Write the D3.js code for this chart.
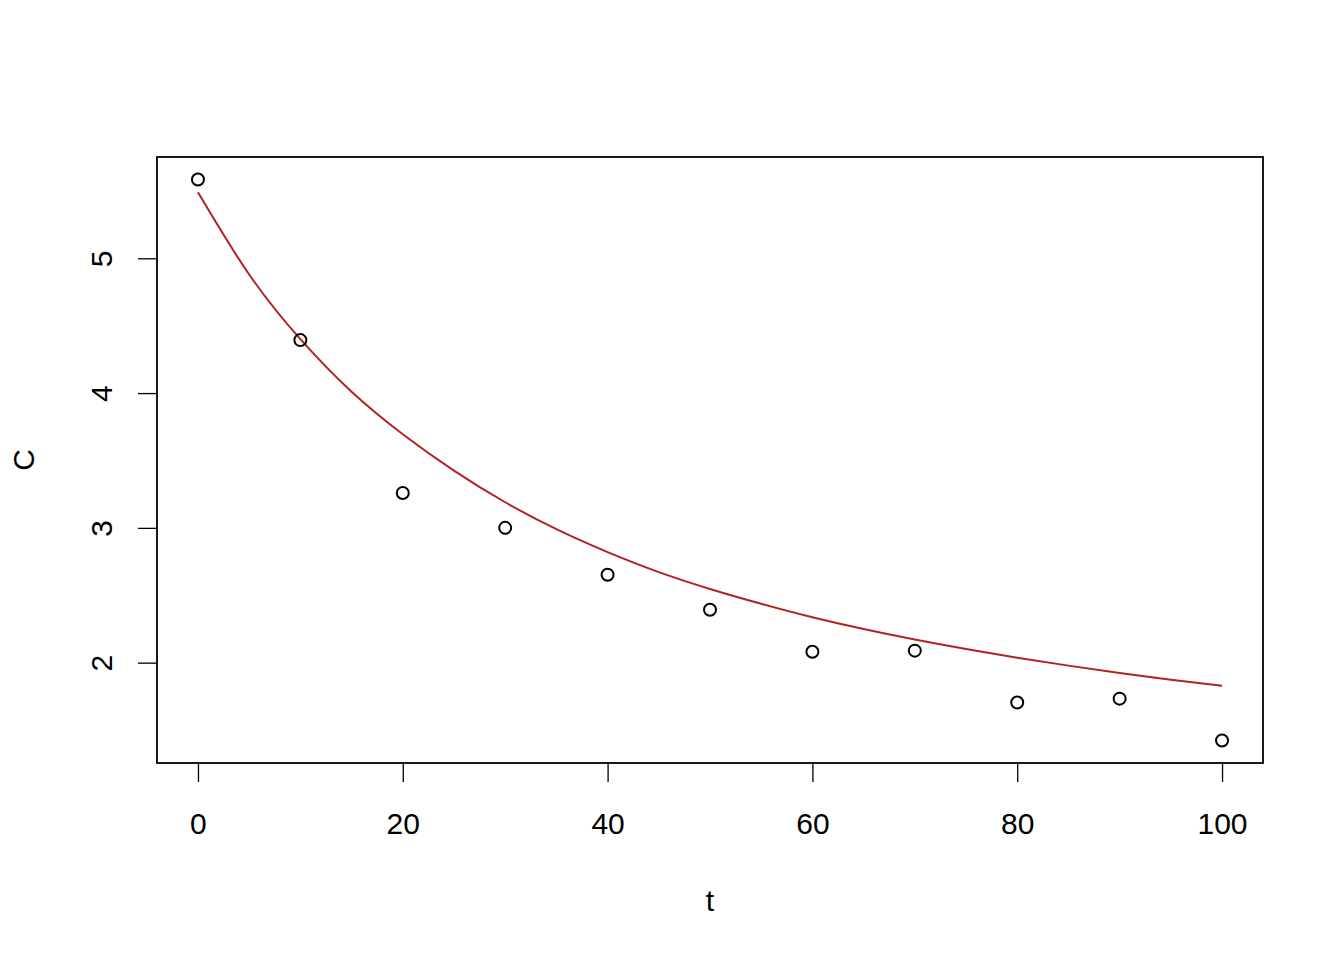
<!DOCTYPE html>
<html><head><meta charset="utf-8">
<script src="https://cdn.jsdelivr.net/npm/d3@7"></script>
<style>body{margin:0;background:#fff;} svg{display:block;} text{font-family:"Liberation Sans",Arial,sans-serif;fill:#000;}</style>
</head><body>
<svg id="chart" width="1344" height="960"></svg>
<script>
// observed data
const tObs = [0,10,20,30,40,50,60,70,80,90,100];
const cObs = [5.585,4.393,3.259,3.0,2.652,2.393,2.081,2.089,1.704,1.733,1.422];
// fitted curve
const tFit = [0,5,10,15,20,25,30,35,40,45,50,55,60,65,70,75,80,85,90,95,100];
const cFit = [5.49,4.88,4.40,4.01,3.695,3.425,3.19,2.99,2.82,2.672,2.547,2.437,2.337,2.249,2.171,2.101,2.037,1.978,1.923,1.874,1.829];
const xTicks = [0,20,40,60,80,100];
const yTicks = [2,3,4,5];

const svg = d3.select("#chart");
const L=157,R=1263,T=157,B=763;
const x = d3.scaleLinear().domain([-4,104]).range([L,R]);
const y = d3.scaleLinear().domain([1.2555,5.7515]).range([B,T]);

// box
svg.append("rect").attr("x",L).attr("y",T).attr("width",R-L).attr("height",B-T)
  .attr("fill","none").attr("stroke","#000").attr("stroke-width",1.8);

// x axis
const xa = svg.append("g").attr("transform",`translate(0,${B})`)
  .call(d3.axisBottom(x).tickValues(xTicks).tickFormat(d3.format("d")).tickSize(19).tickSizeOuter(0));
xa.select(".domain").remove();
xa.selectAll(".tick line").attr("stroke-width",1.3);
xa.selectAll(".tick text").attr("font-size",30).attr("font-family","Liberation Sans, Arial, sans-serif").attr("dy",null).attr("y",71);

// y axis
const ya = svg.append("g").attr("transform",`translate(${L},0)`)
  .call(d3.axisLeft(y).tickValues(yTicks).tickFormat(d3.format("d")).tickSize(19).tickSizeOuter(0));
ya.select(".domain").remove();
ya.selectAll(".tick line").attr("stroke-width",1.3);
ya.selectAll(".tick text").attr("font-size",30).attr("font-family","Liberation Sans, Arial, sans-serif")
  .attr("x",null).attr("dy",null).attr("text-anchor","middle")
  .attr("transform","translate(-45,0) rotate(-90)");

// axis titles
svg.append("text").attr("x",(L+R)/2).attr("y",911).attr("text-anchor","middle").attr("font-size",30).text("t");
svg.append("text").attr("transform",`translate(34,${(T+B)/2}) rotate(-90)`).attr("text-anchor","middle").attr("font-size",30).text("C");

// curve
const line = d3.line().x((d,i)=>x(tFit[i])).y(d=>y(d)).curve(d3.curveNatural);
svg.append("path").attr("d",line(cFit)).attr("fill","none").attr("stroke","#B22222").attr("stroke-width",2);

// points
svg.append("g").selectAll("circle").data(cObs).join("circle")
  .attr("cx",(d,i)=>x(tObs[i])).attr("cy",d=>y(d)).attr("r",6)
  .attr("fill","none").attr("stroke","#000").attr("stroke-width",2);
</script>
</body></html>
